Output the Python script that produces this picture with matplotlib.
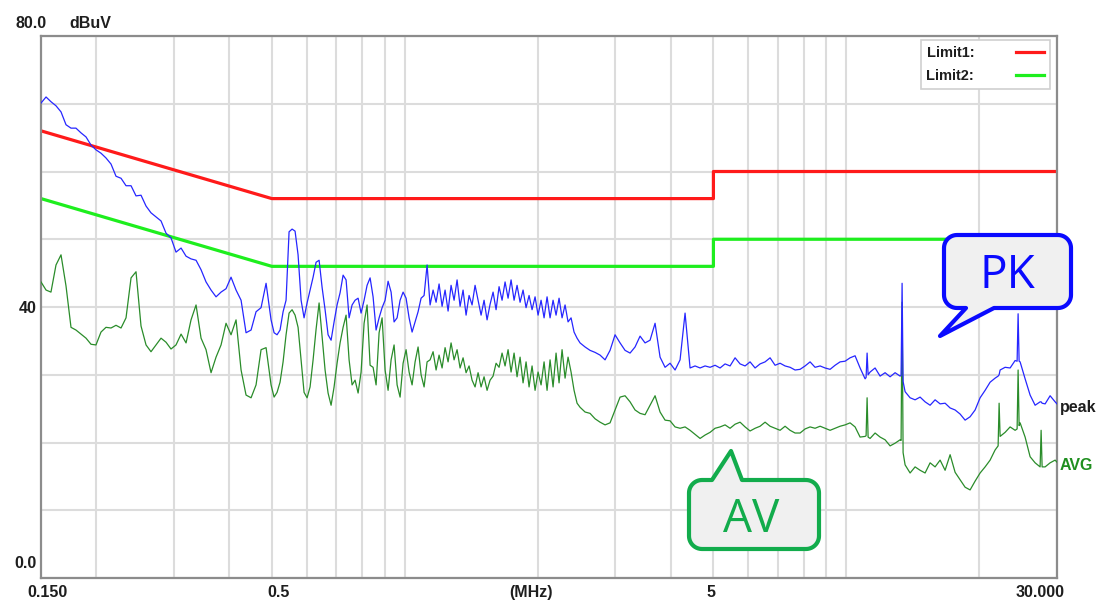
import numpy as np
import matplotlib
matplotlib.use("Agg")
import matplotlib.pyplot as plt
from matplotlib.ticker import LogLocator, NullFormatter, NullLocator
from matplotlib.patches import Polygon

# ---------------------------------------------------------------- data
# Receiver sweep frequencies (MHz) shared by the peak and average detectors
freq_mhz = [
    0.1500, 0.1540, 0.1580, 0.1622, 0.1665, 0.1709, 0.1754, 0.1800, 0.1848, 0.1897,
    0.1947, 0.1998, 0.2051, 0.2105, 0.2161, 0.2218, 0.2277, 0.2337, 0.2399, 0.2462,
    0.2527, 0.2594, 0.2662, 0.2733, 0.2805, 0.2879, 0.2955, 0.3033, 0.3114, 0.3196,
    0.3280, 0.3367, 0.3456, 0.3547, 0.3641, 0.3737, 0.3836, 0.3937, 0.4041, 0.4148,
    0.4258, 0.4370, 0.4486, 0.4604, 0.4726, 0.4851,
    0.4979, 0.5058, 0.5137, 0.5218, 0.5301, 0.5384, 0.5469, 0.5556, 0.5643, 0.5732,
    0.5823, 0.5914, 0.6008, 0.6102, 0.6199, 0.6296, 0.6396, 0.6497, 0.6599, 0.6703,
    0.6809, 0.6916, 0.7025, 0.7136, 0.7249, 0.7363, 0.7479, 0.7597, 0.7717, 0.7839,
    0.7962, 0.8088, 0.8215, 0.8345, 0.8476, 0.8610, 0.8746, 0.8884, 0.9024, 0.9166,
    0.9311, 0.9457, 0.9607, 0.9758, 0.9912, 1.0068, 1.0227, 1.0388, 1.0552, 1.0718,
    1.0887, 1.1059, 1.1233, 1.1410, 1.1590, 1.1773, 1.1958, 1.2147, 1.2338, 1.2533,
    1.2730, 1.2931, 1.3135, 1.3342, 1.3552, 1.3766, 1.3983, 1.4203, 1.4427, 1.4655,
    1.4886, 1.5120, 1.5359, 1.5601, 1.5847, 1.6097, 1.6350, 1.6608, 1.6870, 1.7136,
    1.7406, 1.7681, 1.7959, 1.8243, 1.8530, 1.8822, 1.9119, 1.9420, 1.9727, 2.0038,
    2.0354, 2.0675, 2.1000, 2.1331, 2.1668, 2.2009, 2.2356, 2.2709, 2.3067, 2.3430,
    2.3800, 2.4175, 2.4556, 2.4943,
    2.5602, 2.6278, 2.6973, 2.7685, 2.8416, 2.9167, 2.9938, 3.0729, 3.1540, 3.2374,
    3.3229, 3.4107, 3.5008, 3.5933, 3.6883, 3.7857, 3.8857, 3.9884, 4.0938, 4.2019,
    4.3129, 4.4269, 4.5438, 4.6639, 4.7871, 4.9136, 5.0434, 5.1767, 5.3134, 5.4538,
    5.5979, 5.7458, 5.8976, 6.0534, 6.2134, 6.3775, 6.5460, 6.7190, 6.8965, 7.0787,
    7.2657, 7.4577, 7.6547, 7.8570, 8.0645, 8.2776, 8.4963, 8.7208, 8.9512, 9.1877,
    9.4304, 9.6796, 9.9353, 10.198, 10.467, 10.744, 11.028, 11.086, 11.144, 11.202, 11.319,
    11.618, 11.925, 12.240, 12.564, 12.896, 13.236, 13.305, 13.375, 13.445, 13.586,
    13.945, 14.313, 14.692, 15.080, 15.478, 15.887, 16.307, 16.738, 17.180, 17.634,
    18.100, 18.578, 19.069, 19.573, 20.090, 20.621, 21.166, 21.725, 22.068, 22.183, 22.299,
    22.888, 23.493, 24.113, 24.366, 24.493, 24.621, 24.750, 25.404, 26.075, 26.764,
    27.471, 27.615, 27.759, 28.197, 28.942, 29.707, 30.000,
]

# Peak detector trace (dBuV)
peak_dbuv = [
    70.1, 71.0, 70.3, 69.7, 68.8, 66.9, 66.4, 66.4, 65.7, 65.1,
    63.9, 63.2, 62.7, 62.0, 61.1, 59.3, 59.0, 57.9, 57.9, 56.4,
    56.5, 54.9, 53.9, 53.3, 52.7, 50.9, 50.2, 48.1, 48.7, 47.5,
    47.1, 46.9, 45.5, 43.7, 42.5, 41.5, 42.2, 42.7, 44.4, 42.5,
    41.0, 36.2, 36.6, 39.3, 39.9, 43.5,
    38.1, 36.2, 35.9, 36.6, 39.3, 41.0, 51.1, 51.5, 51.2, 47.7,
    41.0, 38.4, 40.6, 42.5, 44.4, 46.6, 46.9, 42.9, 39.6, 35.9,
    35.1, 37.8, 40.3, 42.1, 44.7, 44.0, 38.4, 40.3, 41.0, 41.3,
    39.1, 41.0, 43.2, 44.3, 41.5, 36.6, 38.4, 39.9, 41.0, 43.8,
    42.2, 37.8, 38.4, 41.0, 42.2, 41.3, 38.4, 36.3, 37.8, 39.3,
    41.3, 41.7, 46.2, 40.3, 42.5, 40.7, 43.4, 40.1, 42.5, 39.4,
    43.2, 41.0, 44.0, 40.1, 42.5, 38.8, 41.7, 40.3, 43.2, 41.0,
    38.8, 41.0, 38.1, 40.4, 42.2, 39.6, 43.0, 41.0, 43.7, 41.3,
    44.0, 41.0, 43.2, 40.7, 42.5, 39.9, 41.7, 39.6, 41.5, 38.8,
    41.0, 38.4, 41.5, 38.4, 41.0, 38.8, 41.3, 38.4, 40.3, 37.8,
    38.4, 36.3, 35.4, 34.7,
    34.1, 33.6, 33.3, 32.9, 32.2, 33.6, 35.9, 34.7, 33.6, 33.2,
    34.1, 35.7, 34.7, 35.1, 37.6, 32.6, 31.1, 31.7, 30.7, 32.2,
    39.1, 31.0, 31.3, 31.0, 31.3, 31.1, 31.4, 31.0, 31.6, 31.3,
    32.5, 31.6, 31.3, 31.9, 31.0, 31.6, 31.9, 32.5, 31.4, 31.7,
    31.3, 31.1, 30.7, 30.8, 31.3, 31.9, 31.1, 31.3, 31.0, 30.8,
    31.4, 31.9, 32.0, 32.5, 32.8, 31.0, 29.4, 29.6, 33.2, 30.0, 30.4,
    31.0, 29.8, 30.3, 29.7, 30.3, 29.8, 29.9, 43.5, 29.0, 27.5,
    26.6, 26.3, 26.7, 26.0, 25.5, 26.3, 25.7, 25.8, 25.1, 24.8,
    24.2, 23.3, 23.8, 24.8, 26.6, 27.7, 28.9, 29.5, 29.8, 30.0, 30.7,
    31.1, 31.0, 32.1, 32.0, 39.0, 32.0, 31.9, 29.4, 27.0, 25.5,
    26.0, 26.0, 25.8, 25.7, 26.9, 26.0, 25.7,
]

# Average detector trace (dBuV)
avg_dbuv = [
    43.7, 42.5, 42.2, 46.2, 47.7, 43.1, 37.0, 36.6, 36.0, 35.4,
    34.5, 34.4, 36.3, 37.0, 36.9, 37.3, 36.9, 38.4, 44.3, 45.2,
    37.2, 34.4, 33.4, 34.4, 35.4, 34.8, 33.8, 34.4, 36.0, 34.7,
    38.1, 40.3, 35.4, 33.7, 30.3, 32.6, 34.4, 37.6, 35.9, 38.1,
    30.7, 27.0, 26.6, 28.5, 33.7, 34.0,
    28.5, 26.7, 27.4, 28.9, 31.9, 35.9, 39.1, 39.6, 38.8, 37.0,
    32.2, 27.4, 26.6, 28.2, 32.2, 36.7, 40.6, 35.6, 30.7, 27.3,
    25.5, 28.2, 31.7, 34.7, 37.0, 38.8, 32.2, 28.5, 29.2, 27.3,
    30.4, 37.6, 40.3, 31.4, 31.1, 28.5, 36.2, 38.4, 30.7, 27.7,
    32.2, 34.4, 28.5, 26.7, 31.7, 33.7, 30.4, 28.5, 31.9, 34.1,
    30.0, 28.2, 31.9, 32.2, 33.4, 30.7, 32.9, 31.0, 34.0, 31.9,
    34.7, 32.2, 33.7, 31.0, 32.5, 30.3, 31.3, 29.2, 28.2, 30.3,
    28.2, 29.7, 27.7, 29.2, 29.8, 31.7, 31.1, 33.2, 31.3, 33.7,
    30.4, 33.2, 29.7, 32.6, 28.8, 31.9, 28.2, 31.3, 27.7, 30.4,
    28.5, 31.9, 27.7, 32.2, 28.2, 33.2, 28.8, 33.7, 29.5, 32.6,
    30.4, 27.7, 25.8, 25.2,
    24.5, 24.3, 23.5, 23.0, 22.6, 22.9, 24.8, 26.7, 26.9, 26.0,
    24.8, 24.3, 24.1, 25.5, 26.9, 24.5, 23.3, 23.2, 22.3, 22.1,
    22.3, 21.8, 21.2, 20.6, 21.1, 21.5, 22.1, 22.3, 22.6, 22.1,
    22.7, 23.0, 22.3, 21.7, 22.1, 22.4, 23.0, 22.4, 22.1, 21.8,
    22.4, 21.8, 21.4, 21.4, 22.0, 22.3, 22.1, 22.4, 22.1, 21.8,
    22.1, 22.4, 22.6, 22.9, 22.3, 20.8, 20.9, 21.0, 26.6, 20.8, 20.6,
    21.4, 20.8, 20.4, 19.5, 19.9, 20.4, 20.3, 40.7, 18.5, 16.7,
    15.5, 16.4, 15.9, 15.5, 17.0, 16.4, 17.4, 15.9, 18.2, 15.6,
    14.5, 13.4, 13.0, 14.3, 15.5, 16.4, 17.4, 18.9, 19.5, 25.8, 20.9,
    21.5, 22.3, 21.8, 22.0, 30.7, 22.5, 22.9, 20.8, 17.9, 17.0,
    16.4, 21.8, 16.4, 16.4, 17.0, 17.4, 17.1,
]

# Class B limit lines (dBuV)
limit_freq = [0.15, 0.5, 5.0, 5.0, 30.0]
limit1_dbuv = [66, 56, 56, 60, 60]
limit2_dbuv = [56, 46, 46, 50, 50]

# axis texts
x_tick_labels = ["0.150", "0.5", "(MHz)", "5", "30.000"]
y_tick_labels = ["80.0", "40", "0.0"]
y_unit = "dBuV"

# ---------------------------------------------------------------- figure
W, H = 1099, 600
fig = plt.figure(figsize=(W / 100, H / 100), dpi=100)
fig.patch.set_facecolor("white")


def fx(x):
    return x / W


def fy(y):
    return 1 - y / H


ax = fig.add_axes([fx(41), fy(578), (1057 - 41) / W, (578 - 36) / H])
ax.set_xscale("log")
ax.set_xlim(0.15, 30)
ax.set_ylim(0, 80)
ax.xaxis.set_major_locator(LogLocator(base=10, subs=np.arange(1, 10), numticks=60))
ax.xaxis.set_minor_locator(NullLocator())
ax.xaxis.set_major_formatter(NullFormatter())
ax.set_yticks(np.arange(0, 81, 10))
ax.set_yticklabels([])
ax.tick_params(length=0)
ax.grid(True, color="#dcdcdc", lw=1.5, zorder=0)
ax.set_axisbelow(True)
for sp in ax.spines.values():
    sp.set_color("#8c8c8c")
    sp.set_linewidth(1.6)

l1, = ax.plot(limit_freq, limit1_dbuv, color="#ff1a1a", lw=2.3, label="Limit1:", zorder=2)
l2, = ax.plot(limit_freq, limit2_dbuv, color="#1eee1e", lw=2.3, label="Limit2:", zorder=2)
ax.plot(freq_mhz, avg_dbuv, color="#2a8c2a", lw=0.9, zorder=3)
ax.plot(freq_mhz, peak_dbuv, color="#2626ff", lw=0.9, zorder=4)

leg = ax.legend(handles=[l1, l2], loc="upper right",
                bbox_to_anchor=(fx(1050), fy(40)), bbox_transform=fig.transFigure,
                markerfirst=False, frameon=True, fancybox=False, framealpha=1,
                edgecolor="#d0d0d0", borderaxespad=0,
                prop=dict(family="Liberation Sans", weight="bold", size=10.5),
                handlelength=1.9, handletextpad=2.9, labelspacing=0.65, borderpad=0.4)
leg.get_frame().set_linewidth(1.2)
for t in leg.get_texts():
    t.set_color("#1e1e1e")

# ---------------------------------------------------------------- axis texts
lab = dict(family="Liberation Sans", weight="bold", size=11.5, color="#1e1e1e")
fig.text(fx(47), fy(28), y_tick_labels[0], ha="right", va="baseline", **lab)
fig.text(fx(69), fy(28), y_unit, ha="left", va="baseline", **lab)
fig.text(fx(37), fy(313), y_tick_labels[1], ha="right", va="baseline", **lab)
fig.text(fx(37), fy(568), y_tick_labels[2], ha="right", va="baseline", **lab)
for txt, xc in zip(x_tick_labels, [48, 279, 531, 711, 1040]):
    fig.text(fx(xc), fy(597), txt, ha="center", va="baseline", **lab)
fig.text(fx(1060), fy(412), "peak", ha="left", va="baseline", **lab)
fig.text(fx(1060), fy(470), "AVG", ha="left", va="baseline",
         **{**lab, "color": "#1f8f1f"})


# ---------------------------------------------------------------- callouts
def callout(x0, y0, x1, y1, r, top_tail, bottom_tail, edge):
    """Rounded speech bubble in pixel coordinates (y downwards)."""
    verts = []

    def arc(cx, cy, a0, a1):
        for a in np.linspace(a0, a1, 12):
            verts.append((cx + r * np.cos(a), cy + r * np.sin(a)))

    arc(x0 + r, y0 + r, np.pi, 1.5 * np.pi)
    verts.extend(top_tail)
    arc(x1 - r, y0 + r, 1.5 * np.pi, 2 * np.pi)
    arc(x1 - r, y1 - r, 0, 0.5 * np.pi)
    verts.extend(bottom_tail)
    arc(x0 + r, y1 - r, 0.5 * np.pi, np.pi)
    pts = [(vx / 100, (H - vy) / 100) for vx, vy in verts]
    fig.add_artist(Polygon(pts, closed=True, transform=fig.dpi_scale_trans,
                           facecolor="#f0f0f0", edgecolor=edge, lw=3.0,
                           joinstyle="round", zorder=5))


big = dict(family="Open Sans", size=33, ha="center", va="baseline", zorder=6)
callout(944, 235, 1071, 308, 13, [], [(994, 308), (940, 336), (966, 308)], "#0a0aff")
fig.text(fx(1007), fy(288), "PK", color="#0a0aff", **big)
callout(689, 480, 819, 549, 13, [(712, 480), (731, 451), (742, 480)], [], "#12ac4c")
fig.text(fx(751), fy(532), "AV", color="#12ac4c", **big)

fig.savefig("out.png", dpi=100, facecolor="white")
